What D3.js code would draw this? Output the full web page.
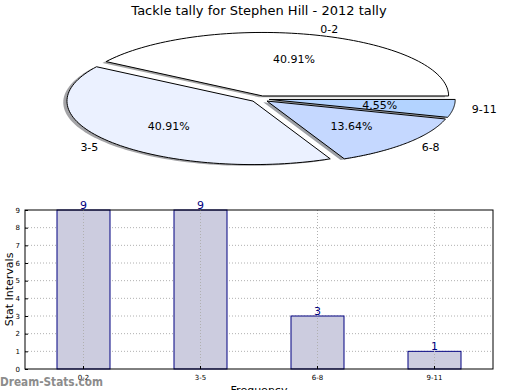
<!DOCTYPE html>
<html>
<head>
<meta charset="utf-8">
<script src="https://cdn.jsdelivr.net/npm/d3@7"></script>
<style>
  body { margin: 0; background: #fff; }
  svg { display: block; font-family: "DejaVu Sans", sans-serif; }
</style>
</head>
<body>
<div id="chart"></div>
<script>
const title = "Tackle tally for Stephen Hill - 2012 tally";
const categories = ["0-2", "3-5", "6-8", "9-11"];
const counts = [9, 9, 3, 1];
const pieColors = ["#ffffff", "#ebf1ff", "#c5d8ff", "#b3d3ff"];
const yTicks = [0, 1, 2, 3, 4, 5, 6, 7, 8, 9];

const size = {
    width: 520,
    height: 390,
    pie: { cx: 260, cy: 99, rx: 186, ry: 63.5, explode: 0.05 },
    bars: { top: 210, bottom: 369, left: 25, right: 493 }
};

const svg = d3.select("#chart").append("svg")
    .attr("width", size.width)
    .attr("height", size.height);

svg.append("text")
    .attr("x", 259).attr("y", 15)
    .attr("text-anchor", "middle")
    .style("font-size", "13px")
    .text(title);

// ---- pie (squashed, exploded, with shadow) ----
const total = d3.sum(counts);
const p = size.pie;
// start at 0 rad, counterclockwise, on a unit circle that is then scaled
const angle = d3.scaleLinear().domain([0, total]).range([0, 2 * Math.PI]);
let acc = 0;
const slices = counts.map((v, i) => {
    const a0 = angle(acc); acc += v; const a1 = angle(acc);
    return { cat: categories[i], value: v, a0, a1, mid: (a0 + a1) / 2, color: pieColors[i] };
});

const toX = (u) => p.cx + u * p.rx;
const toY = (v) => p.cy - v * p.ry;

function wedgePath(s, dx, dy) {
    const ox = p.explode * Math.cos(s.mid) + dx;
    const oy = p.explode * Math.sin(s.mid) + dy;
    const pts = [];
    const n = 80;
    for (let k = 0; k <= n; k++) {
        const t = s.a0 + (s.a1 - s.a0) * k / n;
        pts.push([toX(ox + Math.cos(t)), toY(oy + Math.sin(t))]);
    }
    return "M" + toX(ox) + "," + toY(oy) + "L" + pts.map(q => q.join(",")).join("L") + "Z";
}

const pieLayer = svg.append("g");
pieLayer.selectAll("path.shadow")
    .data(slices).enter().append("path")
    .attr("class", "shadow")
    .attr("d", d => wedgePath(d, -0.02, -0.02))
    .attr("fill", d => {
        const c = d3.rgb(d.color);
        return d3.rgb(c.r * 0.3, c.g * 0.3, c.b * 0.3);
    })
    .attr("fill-opacity", 0.5);

pieLayer.selectAll("path.wedge")
    .data(slices).enter().append("path")
    .attr("class", "wedge")
    .attr("d", d => wedgePath(d, 0, 0))
    .attr("fill", d => d.color)
    .attr("stroke", "#000")
    .attr("stroke-width", 1)
    .attr("stroke-linejoin", "round");

pieLayer.selectAll("text.lbl")
    .data(slices).enter().append("text")
    .attr("class", "lbl")
    .attr("x", d => toX(p.explode * Math.cos(d.mid) + 1.1 * Math.cos(d.mid)))
    .attr("y", d => toY(p.explode * Math.sin(d.mid) + 1.1 * Math.sin(d.mid)))
    .attr("dy", "0.35em")
    .attr("text-anchor", d => Math.cos(d.mid) > 0 ? "start" : "end")
    .style("font-size", "11px")
    .text(d => d.cat);

pieLayer.selectAll("text.pct")
    .data(slices).enter().append("text")
    .attr("class", "pct")
    .attr("x", d => toX(p.explode * Math.cos(d.mid) + 0.6 * Math.cos(d.mid)))
    .attr("y", d => toY(p.explode * Math.sin(d.mid) + 0.6 * Math.sin(d.mid)))
    .attr("dy", "0.35em")
    .attr("text-anchor", "middle")
    .style("font-size", "11px")
    .text(d => d3.format(".2f")(d.value / total * 100) + "%");

// ---- bar chart ----
const b = size.bars;
const x = d3.scaleBand().domain(categories).range([b.left, b.right])
    .paddingInner(0.547).paddingOuter(0.2735);
const y = d3.scaleLinear().domain([0, 9]).range([b.bottom, b.top]);

const barLayer = svg.append("g");

// horizontal grid (under bars)
barLayer.selectAll("line.hgrid")
    .data(yTicks.slice(1, -1)).enter().append("line")
    .attr("x1", b.left).attr("x2", b.right)
    .attr("y1", d => y(d)).attr("y2", d => y(d))
    .attr("stroke", "#b0b0b0").attr("stroke-dasharray", "1,2");

barLayer.selectAll("rect")
    .data(categories).enter().append("rect")
    .attr("x", d => x(d))
    .attr("y", (d, i) => y(counts[i]))
    .attr("width", x.bandwidth())
    .attr("height", (d, i) => y(0) - y(counts[i]))
    .attr("fill", "#ccccdf")
    .attr("stroke", "#000080")
    .attr("stroke-width", 1);

// vertical grid (over bars)
barLayer.selectAll("line.vgrid")
    .data(categories).enter().append("line")
    .attr("x1", d => x(d) + x.bandwidth() / 2).attr("x2", d => x(d) + x.bandwidth() / 2)
    .attr("y1", b.top).attr("y2", b.bottom)
    .attr("stroke", "#b0b0b0").attr("stroke-dasharray", "1,2");

barLayer.selectAll("text.val")
    .data(categories).enter().append("text")
    .attr("x", d => x(d) + x.bandwidth() / 2)
    .attr("y", (d, i) => y(counts[i]) - 1)
    .attr("text-anchor", "middle")
    .attr("fill", "#000080")
    .style("font-size", "11px")
    .text((d, i) => counts[i]);

// frame
barLayer.append("rect")
    .attr("x", b.left).attr("y", b.top)
    .attr("width", b.right - b.left).attr("height", b.bottom - b.top)
    .attr("fill", "none").attr("stroke", "#000").attr("stroke-width", 1);

const yAxis = barLayer.append("g")
    .attr("transform", `translate(${b.left},0)`)
    .call(d3.axisLeft(y).tickValues(yTicks).tickSize(-3).tickPadding(5).tickFormat(d3.format("d")));
yAxis.select(".domain").remove();
yAxis.selectAll("text").style("font-size", "7px").style("font-family", "DejaVu Sans");

const xAxis = barLayer.append("g")
    .attr("transform", `translate(0,${b.bottom})`)
    .call(d3.axisBottom(x).tickSize(-3).tickPadding(6));
xAxis.select(".domain").remove();
xAxis.selectAll("text").style("font-size", "7px").style("font-family", "DejaVu Sans");

svg.append("text")
    .attr("transform", `translate(13,${(b.top + b.bottom) / 2}) rotate(-90)`)
    .attr("text-anchor", "middle")
    .style("font-size", "11px")
    .text("Stat Intervals");

svg.append("text")
    .attr("x", 259).attr("y", 394)
    .attr("text-anchor", "middle")
    .style("font-size", "11px")
    .text("Frequency");

svg.append("text")
    .attr("x", 0).attr("y", 386)
    .attr("fill", "#8c8c8c")
    .style("font-family", "'DejaVu Sans Condensed', 'DejaVu Sans', sans-serif")
    .style("font-stretch", "condensed")
    .style("font-size", "13px")
    .style("font-weight", "bold")
    .attr("textLength", 103)
    .attr("lengthAdjust", "spacingAndGlyphs")
    .text("Dream-Stats.com");
</script>
</body>
</html>
